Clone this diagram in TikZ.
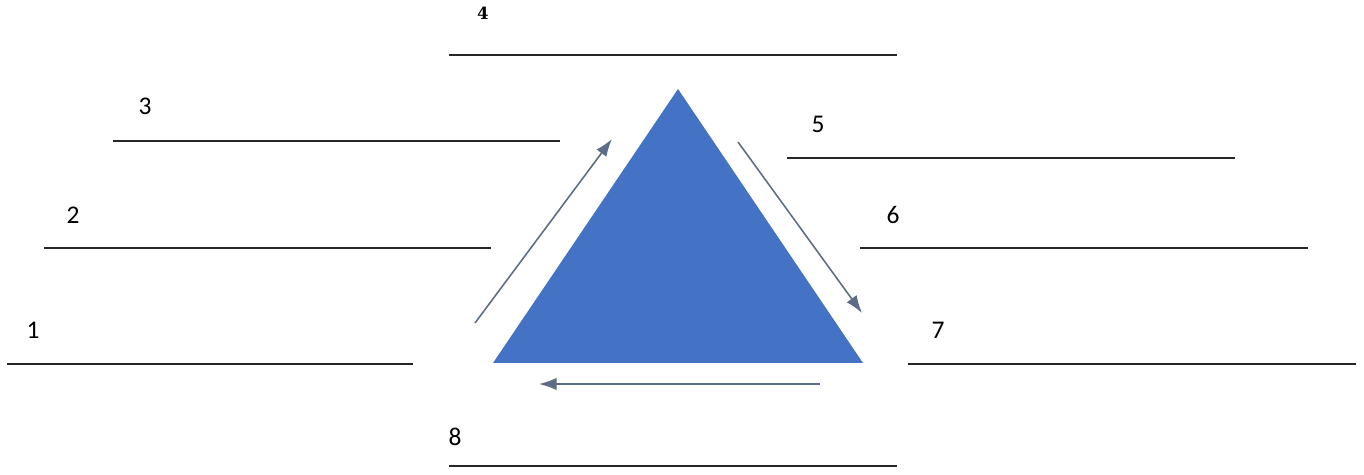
\documentclass[tikz,border=0pt]{standalone}
\usepackage{fontspec}
\setmainfont{Carlito}
\newfontfamily\numfont{DejaVu Serif}
\usetikzlibrary{arrows.meta}
\definecolor{triblue}{HTML}{4472C4}
\definecolor{arrowgray}{HTML}{5D6D88}

\tikzset{
  blank/.style={line width=1.2pt, draw=black!85},
  cycle arrow/.style={draw=arrowgray, line width=0.9pt, -{Latex[length=10pt,width=7pt]}},
  numlabel/.style={inner sep=0pt, font=\fontsize{14.5}{17}\selectfont}
}

\begin{document}
\begin{tikzpicture}[x=0.02cm, y=-0.02cm]
  \useasboundingbox (0,0) rectangle (1364,475);

  % triangle
  \coordinate (apex) at (678,89);
  \coordinate (bl) at (493,363);
  \coordinate (br) at (863,363);
  \fill[triblue] (apex) -- (br) -- (bl) -- cycle;

  % labels
  \node[inner sep=0pt, font=\numfont\bfseries\fontsize{9.5}{11}\selectfont] (n4) at (483,13) {4};
  \node[numlabel] (n3) at (145,106) {3};
  \node[numlabel] (n5) at (818,124) {5};
  \node[numlabel] (n2) at (73,215) {2};
  \node[numlabel] (n6) at (893,215) {6};
  \node[numlabel] (n1) at (33,330) {1};
  \node[numlabel] (n7) at (938,330) {7};
  \node[numlabel] (n8) at (455,437) {8};

  % answer lines
  \coordinate (l4a) at (449,55);  \coordinate (l4b) at (897,55);
  \coordinate (l3a) at (113,141); \coordinate (l3b) at (560,141);
  \coordinate (l5a) at (787,158); \coordinate (l5b) at (1235,158);
  \coordinate (l2a) at (44,248);  \coordinate (l2b) at (491,248);
  \coordinate (l6a) at (860,248); \coordinate (l6b) at (1308,248);
  \coordinate (l1a) at (7,364);   \coordinate (l1b) at (413,364);
  \coordinate (l7a) at (908,364); \coordinate (l7b) at (1356,364);
  \coordinate (l8a) at (449,466); \coordinate (l8b) at (897,466);
  \draw[blank] (l4a) -- (l4b);
  \draw[blank] (l3a) -- (l3b);
  \draw[blank] (l5a) -- (l5b);
  \draw[blank] (l2a) -- (l2b);
  \draw[blank] (l6a) -- (l6b);
  \draw[blank] (l1a) -- (l1b);
  \draw[blank] (l7a) -- (l7b);
  \draw[blank] (l8a) -- (l8b);

  % cycle arrows
  \coordinate (up1) at (475,323);  \coordinate (up2) at (612,139);
  \coordinate (dn1) at (738,142);  \coordinate (dn2) at (862,313);
  \coordinate (bt1) at (820,384);  \coordinate (bt2) at (539,384);
  \draw[cycle arrow] (up1) -- (up2);
  \draw[cycle arrow] (dn1) -- (dn2);
  \draw[cycle arrow] (bt1) -- (bt2);
\end{tikzpicture}
\end{document}
